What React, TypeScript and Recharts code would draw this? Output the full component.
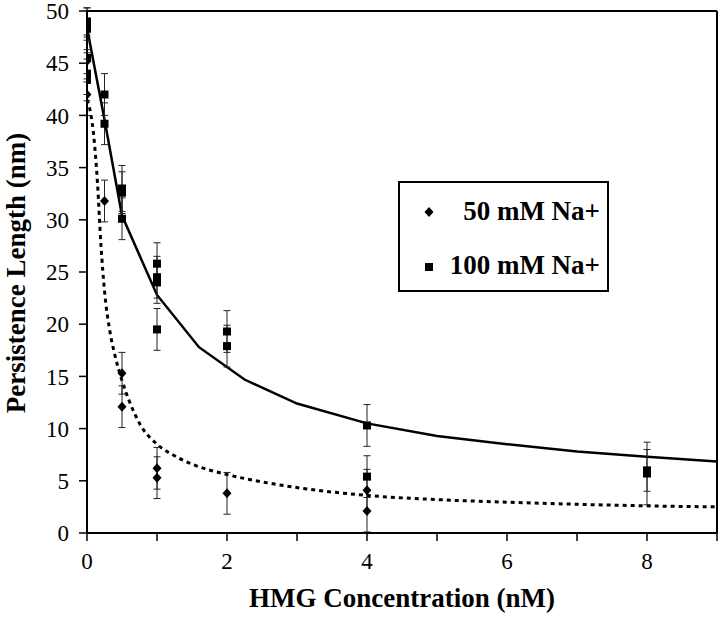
import React from 'react';
import {
  ComposedChart, Line, Scatter, XAxis, YAxis, ErrorBar, ReferenceLine,
} from 'recharts';

// 50 mM Na+ measurements
const na50X = [0, 0, 0.25, 0.5, 0.5, 1, 1, 2, 4, 4];
const na50Y = [45.2, 42.0, 31.8, 15.3, 12.1, 6.2, 5.3, 3.8, 4.1, 2.1];
const na50Err = [2, 2, 2, 2, 2, 2, 2, 2, 2, 2];

// 100 mM Na+ measurements
const na100X = [0, 0, 0, 0, 0, 0.25, 0.25, 0.5, 0.5, 0.5, 1, 1, 1, 1, 2, 2, 4, 4, 8, 8];
const na100Y = [49.0, 48.3, 45.5, 44.0, 43.4, 42.0, 39.2, 33.0, 32.6, 30.1, 25.8, 24.5, 24.0, 19.5, 19.3, 17.9, 10.3, 5.4, 5.7, 6.0];
const na100Err = [1.3, 2, 2, 2, 2, 2, 2, 2.2, 2, 2, 2, 2, 2, 2, 2, 2, 2, 2, 3.0, 2.0];

// fitted curves
const fit100X = [0, 0.25, 0.5, 1, 1.6, 2.25, 3, 4, 5, 6, 7, 8, 9];
const fit100Y = [48.4, 39.6, 30.4, 22.8, 17.8, 14.7, 12.4, 10.5, 9.3, 8.5, 7.8, 7.3, 6.85];
const fit50X = [0, 0.05, 0.1, 0.15, 0.2, 0.25, 0.33, 0.4, 0.5, 0.6, 0.75, 1, 1.25, 1.5, 2, 2.5, 3, 4, 5, 6, 7, 8, 9];
const fit50Y = [41.5, 40.3, 37.8, 33.5, 27.5, 23.2, 19.2, 17.0, 14.6, 12.7, 10.5, 8.5, 7.4, 6.6, 5.6, 4.9, 4.35, 3.6, 3.2, 2.95, 2.75, 2.6, 2.5];

const xTicks = [0, 1, 2, 3, 4, 5, 6, 7, 8, 9];
const yTicks = [0, 5, 10, 15, 20, 25, 30, 35, 40, 45, 50];

const legendLabels = ['50 mM Na+', '100 mM Na+'];
const xTitle = 'HMG Concentration (nM)';
const yTitle = 'Persistence Length (nm)';

const d50 = na50X.map((x, i) => ({ x, y: na50Y[i], err: na50Err[i] }));
const d100 = na100X.map((x, i) => ({ x, y: na100Y[i], err: na100Err[i] }));
const f100 = fit100X.map((x, i) => ({ x, y: fit100Y[i] }));
const f50 = fit50X.map((x, i) => ({ x, y: fit50Y[i] }));

const SERIF = 'Liberation Serif, Times New Roman, serif';

const Diamond = (props: any) => {
  const { cx, cy } = props;
  if (cx == null || cy == null) return null;
  return <polygon points={`${cx},${cy - 5} ${cx + 4.5},${cy} ${cx},${cy + 5} ${cx - 4.5},${cy}`} fill="#000" />;
};
const Square = (props: any) => {
  const { cx, cy } = props;
  if (cx == null || cy == null) return null;
  return <rect x={cx - 4} y={cy - 4} width={8} height={8} fill="#000" />;
};

const XTick = (props: any) => {
  const { x, y, payload } = props;
  const v = payload.value;
  if (v % 2 !== 0 || v >= 9) return <g />;
  return (
    <text x={x} y={y} dy="0.71em" textAnchor="middle" fontFamily={SERIF} fontSize={23} fill="#000">
      {String(v)}
    </text>
  );
};
const YTick = (props: any) => {
  const { x, y, payload } = props;
  return (
    <text x={x} y={y} dy="0.355em" textAnchor="end" fontFamily={SERIF} fontSize={23} fill="#000">
      {String(payload.value)}
    </text>
  );
};

export default function App() {
  return (
    <div style={{ position: 'absolute', left: 0, top: 0, width: 720, height: 618, background: '#fff' }}>
      <ComposedChart width={720} height={618} margin={{ top: 11, right: 3, bottom: 25, left: 37 }} style={{ fontFamily: SERIF }}>
        <XAxis
          type="number"
          dataKey="x"
          domain={[0, 9]}
          ticks={xTicks}
          interval={0}
          tick={XTick}
          tickSize={8}
          tickMargin={12}
          height={60}
          axisLine={{ stroke: '#000', strokeWidth: 2 }}
          tickLine={{ stroke: '#000', strokeWidth: 1.5 }}
          allowDataOverflow
        />
        <YAxis
          type="number"
          dataKey="y"
          domain={[0, 50]}
          ticks={yTicks}
          interval={0}
          tick={YTick}
          tickSize={8}
          tickMargin={10}
          width={50}
          axisLine={{ stroke: '#000', strokeWidth: 2 }}
          tickLine={{ stroke: '#000', strokeWidth: 1.5 }}
          allowDataOverflow
        />
        <ReferenceLine y={50} stroke="#000" strokeWidth={2} />
        <ReferenceLine x={9} stroke="#000" strokeWidth={2} />
        <Line data={f100} dataKey="y" type="linear" stroke="#000" strokeWidth={2.5} dot={false} isAnimationActive={false} />
        <Line data={f50} dataKey="y" type="monotone" stroke="#000" strokeWidth={3} strokeDasharray="4 4" dot={false} isAnimationActive={false} />
        <Scatter data={d50} dataKey="y" shape={Diamond} isAnimationActive={false}>
          <ErrorBar dataKey="err" direction="y" width={3.5} stroke="#222" strokeWidth={1} />
        </Scatter>
        <Scatter data={d100} dataKey="y" shape={Square} isAnimationActive={false}>
          <ErrorBar dataKey="err" direction="y" width={3.5} stroke="#222" strokeWidth={1} />
        </Scatter>
      </ComposedChart>
      <svg width={720} height={618} style={{ position: 'absolute', left: 0, top: 0, pointerEvents: 'none' }}>
        <rect x={399} y={182} width={209} height={109} fill="#fff" stroke="#000" strokeWidth={2} />
        <polygon points="429,207 433.5,212 429,217 424.5,212" fill="#000" />
        <text x={600} y={220} textAnchor="end" fontFamily={SERIF} fontWeight="bold" fontSize={27} fill="#000">{legendLabels[0]}</text>
        <rect x={425} y={263} width={8} height={8} fill="#000" />
        <text x={600} y={274} textAnchor="end" fontFamily={SERIF} fontWeight="bold" fontSize={27} fill="#000">{legendLabels[1]}</text>
        <text x={402} y={607} textAnchor="middle" fontFamily={SERIF} fontWeight="bold" fontSize={27} fill="#000">{xTitle}</text>
        <text transform="translate(25,273) rotate(-90)" textAnchor="middle" fontFamily={SERIF} fontWeight="bold" fontSize={27} fill="#000">{yTitle}</text>
      </svg>
    </div>
  );
}
